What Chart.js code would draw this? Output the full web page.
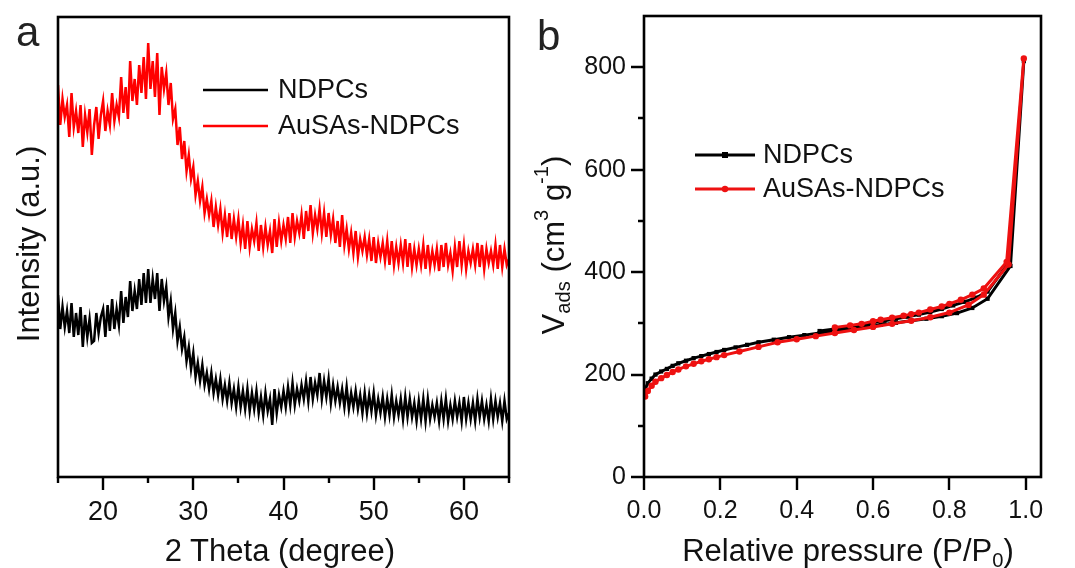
<!DOCTYPE html>
<html>
<head>
<meta charset="utf-8">
<script src="https://cdn.jsdelivr.net/npm/chart.js@4.4.1/dist/chart.umd.min.js"></script>
<style>
	body { margin: 0; background: #fff; width: 1075px; height: 568px; overflow: hidden; position: relative;
		font-family: "Liberation Sans", Arial, sans-serif; color: #111; }
	canvas { position: absolute; top: 0; }
	#chartA { left: 0; }
	#chartB { left: 530px; }
	.txt { position: absolute; white-space: nowrap; line-height: 1; }
	.panel { font-size: 42px; color: #222; }
	.title { font-size: 31px; transform: translate(-50%, -50%); }
	.rot { transform: translate(-50%, -50%) rotate(-90deg); }
	.title sub, .title sup { font-size: 0.65em; line-height: 0; }
	.title sub { vertical-align: -0.3em; }
	.title sup { vertical-align: 0.75em; }
</style>
</head>
<body>
<canvas id="chartA" width="530" height="568"></canvas>
<canvas id="chartB" width="545" height="568"></canvas>
<div class="txt panel" style="left:16px;top:11px">a</div>
<div class="txt panel" style="left:537px;top:15px">b</div>
<div class="txt title" style="left:280px;top:550px">2 Theta (degree)</div>
<div class="txt title rot" style="left:28px;top:244px">Intensity (a.u.)</div>
<div class="txt title" style="left:848px;top:550px">Relative pressure (P/P<sub>0</sub>)</div>
<div class="txt title rot" style="left:553px;top:245px">V<sub>ads</sub> (cm<sup>3</sup> g<sup>-1</sup>)</div>
<script>
'use strict';

// *** Panel a : XRD, 2 theta from 15 to 65 in 0.25 degree steps ***
const thetaStart = 15;
const thetaStep = 0.25;

const xrdNDPCs = [
	182, 148, 170, 150, // 15
	166, 144, 174, 140,
	164, 142, 170, 130,
	162, 140, 158, 134,
	136, 164, 144, 160,
	168, 140, 172, 146, // 20
	178, 148, 168, 152,
	186, 154, 180, 160,
	196, 166, 186, 168,
	198, 172, 204, 174,
	208, 174, 198, 178, // 25
	204, 166, 198, 176,
	190, 160, 176, 148,
	164, 136, 150, 128,
	140, 116, 130, 108,
	124, 100, 114, 96, // 30
	112, 92, 104, 88,
	104, 84, 98, 82,
	98, 78, 92, 76,
	94, 74, 88, 70,
	90, 70, 86, 68, // 35
	88, 66, 84, 68,
	86, 64, 80, 62,
	84, 66, 78, 52,
	88, 64, 82, 70,
	86, 70, 90, 72, // 40
	94, 72, 88, 76,
	92, 78, 96, 76,
	100, 78, 94, 82,
	104, 78, 96, 80,
	98, 74, 92, 76, // 45
	90, 74, 88, 70,
	90, 68, 84, 70,
	86, 68, 82, 64,
	84, 64, 82, 66,
	84, 62, 78, 64, // 50
	80, 60, 78, 62,
	82, 60, 76, 62,
	78, 58, 80, 60,
	78, 60, 74, 56,
	76, 58, 78, 56, // 55
	78, 58, 72, 60,
	74, 56, 76, 58,
	78, 56, 72, 58,
	76, 60, 74, 56,
	80, 58, 74, 58, // 60
	74, 56, 78, 60,
	76, 58, 72, 56,
	78, 58, 76, 60,
	74, 56, 76, 58,
	64 // 65
];

const xrdAuSAs = [
	392, 352, 378, 360, // 15
	372, 340, 384, 350,
	366, 344, 372, 330,
	362, 345, 368, 322,
	352, 370, 338, 362,
	376, 346, 366, 352, // 20
	384, 356, 372, 360,
	400, 364, 390, 358,
	416, 376, 398, 372,
	412, 384, 420, 378,
	434, 388, 416, 380, // 25
	424, 362, 410, 388,
	404, 372, 394, 358,
	368, 332, 350, 318,
	336, 306, 322, 298,
	310, 282, 296, 276, // 30
	290, 264, 278, 262,
	276, 250, 270, 252,
	268, 244, 262, 240,
	264, 238, 258, 240,
	258, 234, 252, 228, // 35
	256, 230, 248, 236,
	254, 226, 252, 230,
	250, 232, 246, 224,
	258, 230, 254, 236,
	252, 238, 260, 234, // 40
	264, 240, 256, 244,
	262, 238, 266, 246,
	272, 244, 262, 248,
	268, 244, 264, 240,
	264, 242, 258, 234, // 45
	256, 230, 262, 232,
	248, 228, 244, 224,
	246, 220, 238, 226,
	240, 222, 238, 216,
	240, 214, 234, 220, // 50
	234, 216, 236, 212,
	236, 212, 230, 214,
	232, 214, 238, 210,
	234, 210, 228, 212,
	228, 212, 232, 208, // 55
	232, 210, 226, 212,
	228, 206, 232, 210,
	234, 212, 224, 206,
	230, 210, 236, 212,
	232, 208, 226, 214, // 60
	228, 212, 234, 210,
	232, 208, 228, 214,
	226, 212, 232, 208,
	232, 210, 228, 212,
	218 // 65
];

const thetaLabels = [20, 30, 40, 50, 60];
const thetaMinor = [15, 25, 35, 45, 55, 65];

// *** Panel b : N2 isotherms (adsorption then desorption) ***
const ndpcsP = [0.003, 0.01, 0.02, 0.03, 0.045, 0.06, 0.075, 0.09, 0.11, 0.13, 0.15, 0.17, 0.19, 0.21, 0.24, 0.27,
	0.30, 0.34, 0.38, 0.42, 0.46, 0.50, 0.54, 0.58, 0.62, 0.66, 0.70, 0.74, 0.78, 0.82, 0.86, 0.90, 0.96, 0.995,
	0.955, 0.90, 0.87, 0.84, 0.81, 0.78, 0.75, 0.72, 0.69, 0.66, 0.63, 0.60, 0.57, 0.54, 0.50, 0.46];
const ndpcsV = [172, 183, 192, 200, 206, 211, 217, 222, 227, 232, 236, 240, 244, 248, 253, 258,
	263, 268, 273, 277, 281, 285, 289, 293, 297, 301, 305, 309, 314, 320, 330, 348, 412, 812,
	418, 362, 350, 342, 335, 328, 322, 317, 313, 309, 305, 301, 297, 293, 289, 285];

const ausasP = [0.003, 0.01, 0.02, 0.03, 0.045, 0.06, 0.075, 0.09, 0.11, 0.13, 0.15, 0.17, 0.19, 0.21, 0.25, 0.30,
	0.35, 0.40, 0.45, 0.50, 0.55, 0.60, 0.65, 0.70, 0.75, 0.80, 0.85, 0.89, 0.955, 0.995,
	0.95, 0.89, 0.86, 0.83, 0.80, 0.78, 0.75, 0.72, 0.70, 0.68, 0.65, 0.62, 0.60, 0.57, 0.54, 0.50];
const ausasV = [157, 168, 178, 186, 193, 199, 205, 210, 216, 221, 226, 230, 234, 238, 245, 254,
	263, 269, 275, 281, 287, 293, 299, 305, 312, 321, 336, 356, 415, 817,
	420, 368, 356, 346, 338, 333, 327, 321, 318, 315, 311, 307, 304, 299, 296, 292];

const pressureLabels = [0, 0.2, 0.4, 0.6, 0.8, 1.0];
const vadsLabels = [0, 200, 400, 600, 800];
const vadsMinor = [100, 300, 500, 700];

Chart.defaults.font.family = '"Liberation Sans", Arial, sans-serif';
Chart.defaults.color = '#111';

// frame, tick marks and legend, drawn over the data
const framePlugin = {
	id: 'frame',
	afterDraw(chart, args, opts) {
		const { ctx, chartArea: a, scales } = chart;
		ctx.save();
		ctx.strokeStyle = '#000';
		ctx.lineWidth = 2.6;
		ctx.strokeRect(a.left, a.top, a.right - a.left, a.bottom - a.top);

		ctx.lineWidth = 2.4;
		ctx.beginPath();
		const xTick = (vals, len) => vals.forEach((v) => {
			const px = Math.round(scales.x.getPixelForValue(v));
			ctx.moveTo(px, a.bottom);
			ctx.lineTo(px, a.bottom + len);
		});
		const yTick = (vals, len) => vals.forEach((v) => {
			const py = Math.round(scales.y.getPixelForValue(v));
			ctx.moveTo(a.left, py);
			ctx.lineTo(a.left - len, py);
		});
		xTick(opts.xMajor || [], 13);
		xTick(opts.xMinor || [], 6);
		yTick(opts.yMajor || [], 13);
		yTick(opts.yMinor || [], 6);
		ctx.stroke();

		// legend
		const lg = opts.legend;
		ctx.font = lg.font + 'px "Liberation Sans", Arial, sans-serif';
		ctx.textBaseline = 'middle';
		ctx.textAlign = 'left';
		chart.data.datasets.forEach((ds, i) => {
			const y = lg.y + i * lg.gap;
			ctx.strokeStyle = ds.borderColor;
			ctx.lineWidth = lg.lineWidth;
			ctx.beginPath();
			ctx.moveTo(lg.x, y);
			ctx.lineTo(lg.x + lg.len, y);
			ctx.stroke();
			if (ds.pointRadius) {
				const cx = lg.x + lg.len / 2;
				ctx.fillStyle = ds.borderColor;
				ctx.beginPath();
				if (ds.pointStyle === 'rect') {
					ctx.rect(cx - ds.pointRadius, y - ds.pointRadius, ds.pointRadius * 2, ds.pointRadius * 2);
				} else {
					ctx.arc(cx, y, ds.pointRadius, 0, Math.PI * 2);
				}
				ctx.fill();
			}
			ctx.fillStyle = '#111';
			ctx.fillText(ds.label, lg.x + lg.len + lg.textGap, y + 1);
		});
		ctx.restore();
	}
};

// fixed axis box, no extra room for edge labels
function fixedAxis(size, horizontal) {
	return function (scale) {
		if (horizontal) scale.height = size;
		else scale.width = size;
		scale.paddingTop = 0;
		scale.paddingBottom = 0;
		scale.paddingLeft = 0;
		scale.paddingRight = 0;
	};
}

function onlyTicks(values) {
	return function (scale) {
		scale.ticks = values.map((v) => ({ value: v }));
	};
}

// *** Panel a ***
const xrdA = xrdNDPCs.map((v, i) => ({ x: thetaStart + i * thetaStep, y: v }));
const xrdB = xrdAuSAs.map((v, i) => ({ x: thetaStart + i * thetaStep, y: v }));

new Chart(document.getElementById('chartA'), {
	type: 'line',
	data: {
		datasets: [
			{ label: 'NDPCs', data: xrdA, borderColor: '#000', borderWidth: 2.5, pointRadius: 0, tension: 0 },
			{ label: 'AuSAs-NDPCs', data: xrdB, borderColor: '#ff0000', borderWidth: 2.5, pointRadius: 0, tension: 0 },
		],
	},
	options: {
		responsive: false,
		animation: false,
		layout: { padding: { left: 0, top: 17, right: 21, bottom: 0 } },
		plugins: {
			legend: { display: false },
			tooltip: { enabled: false },
			frame: {
				xMajor: thetaLabels,
				xMinor: thetaMinor,
				legend: { x: 203, y: 90, gap: 36, len: 65, textGap: 10, font: 27, lineWidth: 2.6 },
			},
		},
		scales: {
			x: {
				type: 'linear',
				min: 15,
				max: 65,
				afterFit: fixedAxis(91, true),
				afterBuildTicks: onlyTicks(thetaLabels),
				grid: { display: false, drawTicks: false },
				border: { display: false },
				ticks: { padding: 19, font: { size: 27 }, color: '#111', maxRotation: 0 },
			},
			y: {
				min: 0,
				max: 460,
				afterFit: fixedAxis(58, false),
				grid: { display: false, drawTicks: false },
				border: { display: false },
				ticks: { display: false },
			},
		},
	},
	plugins: [framePlugin],
});

// *** Panel b ***
const isoA = ndpcsP.map((p, i) => ({ x: p, y: ndpcsV[i] }));
const isoB = ausasP.map((p, i) => ({ x: p, y: ausasV[i] }));

new Chart(document.getElementById('chartB'), {
	type: 'line',
	data: {
		datasets: [
			{
				label: 'NDPCs', data: isoA, order: 1, borderColor: '#000', backgroundColor: '#000', borderWidth: 3,
				pointStyle: 'rect', pointRadius: 3, pointBackgroundColor: '#000', pointBorderWidth: 0, tension: 0,
			},
			{
				label: 'AuSAs-NDPCs', data: isoB, order: 0, borderColor: '#ee1111', backgroundColor: '#ee1111', borderWidth: 3,
				pointStyle: 'circle', pointRadius: 3.2, pointBackgroundColor: '#ee1111', pointBorderWidth: 0, tension: 0,
			},
		],
	},
	options: {
		responsive: false,
		animation: false,
		layout: { padding: { left: 0, top: 16, right: 34, bottom: 0 } },
		plugins: {
			legend: { display: false },
			tooltip: { enabled: false },
			frame: {
				xMajor: pressureLabels,
				yMajor: vadsLabels,
				yMinor: vadsMinor,
				legend: { x: 165, y: 155, gap: 34, len: 60, textGap: 8, font: 27, lineWidth: 3 },
			},
		},
		scales: {
			x: {
				type: 'linear',
				min: 0,
				max: 1.04,
				afterFit: fixedAxis(91, true),
				afterBuildTicks: onlyTicks(pressureLabels),
				grid: { display: false, drawTicks: false },
				border: { display: false },
				ticks: { padding: 19, font: { size: 25 }, color: '#111', maxRotation: 0, callback: (v) => v.toFixed(1) },
			},
			y: {
				min: 0,
				max: 900,
				afterFit: fixedAxis(114, false),
				afterBuildTicks: onlyTicks(vadsLabels),
				grid: { display: false, drawTicks: false },
				border: { display: false },
				ticks: { padding: 18, font: { size: 25 }, color: '#111' },
			},
		},
	},
	plugins: [framePlugin],
});
</script>
</body>
</html>
